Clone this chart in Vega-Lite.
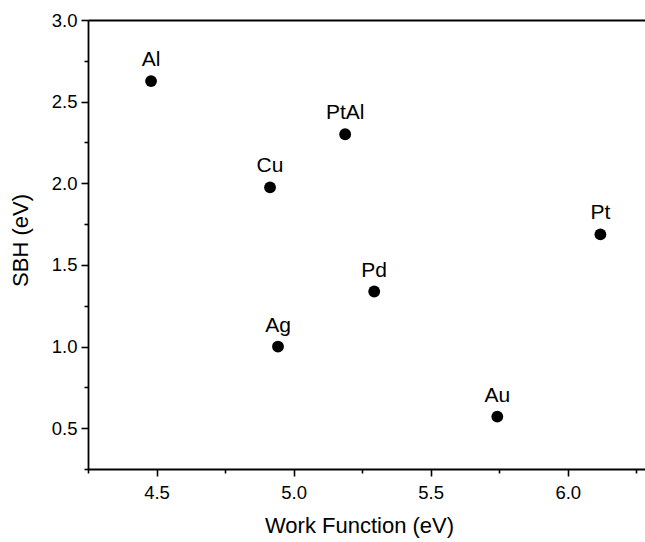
{
  "$schema": "https://vega.github.io/schema/vega-lite/v6.json",
  "width": 562,
  "height": 449,
  "autosize": "none",
  "padding": {"left": 88, "top": 20, "right": 0, "bottom": 73},
  "background": "white",
  "config": {
    "view": {"stroke": null},
    "axis": {
      "domainColor": "black", "tickColor": "black", "labelColor": "black", "titleColor": "black",
      "domainWidth": 1.8, "tickWidth": 1.6, "grid": false,
      "labelFont": "Liberation Sans", "titleFont": "Liberation Sans",
      "labelFontSize": 18.5, "titleFontSize": 22, "titleFontWeight": "normal"
    }
  },
  "data": {
    "values": [
      {"metal": "Al", "wf": 4.48, "sbh": 2.626},
      {"metal": "Cu", "wf": 4.914, "sbh": 1.975},
      {"metal": "PtAl", "wf": 5.188, "sbh": 2.30},
      {"metal": "Pd", "wf": 5.294, "sbh": 1.337},
      {"metal": "Ag", "wf": 4.943, "sbh": 1.0},
      {"metal": "Au", "wf": 5.743, "sbh": 0.571},
      {"metal": "Pt", "wf": 6.119, "sbh": 1.687}
    ]
  },
  "resolve": {"axis": {"x": "independent", "y": "independent"}},
  "layer": [
    {
      "mark": {"type": "point", "filled": true, "color": "black", "opacity": 1, "size": 140},
      "encoding": {
        "x": {"field": "wf", "type": "quantitative", "scale": {"domain": [4.25, 6.3], "nice": false, "zero": false},
              "axis": {"orient": "bottom", "title": "Work Function (eV)", "values": [4.5, 5.0, 5.5, 6.0], "format": ".1f", "tickSize": 7, "labelPadding": 7, "titlePadding": 14, "titleX": 271}},
        "y": {"field": "sbh", "type": "quantitative", "scale": {"domain": [0.25, 3.0], "nice": false, "zero": false},
              "axis": {"orient": "left", "title": "SBH (eV)", "values": [0.5, 1.0, 1.5, 2.0, 2.5, 3.0], "format": ".1f", "tickSize": 7, "labelPadding": 4, "titlePadding": 19, "titleY": 220}}
      }
    },
    {
      "mark": {"type": "text", "dy": -15, "font": "Liberation Sans", "fontSize": 21, "color": "black", "baseline": "alphabetic"},
      "encoding": {
        "x": {"field": "wf", "type": "quantitative", "axis": null},
        "y": {"field": "sbh", "type": "quantitative", "axis": null},
        "text": {"field": "metal"}
      }
    },
    {
      "mark": {"type": "point", "opacity": 0},
      "encoding": {
        "x": {"field": "wf", "type": "quantitative",
              "axis": {"orient": "bottom", "title": null, "values": [4.25, 4.75, 5.25, 5.75, 6.25], "labels": false, "tickSize": 4, "domain": false}},
        "y": {"field": "sbh", "type": "quantitative",
              "axis": {"orient": "left", "title": null, "values": [0.25, 0.75, 1.25, 1.75, 2.25, 2.75], "labels": false, "tickSize": 4, "domain": false}}
      }
    },
    {
      "mark": {"type": "point", "opacity": 0},
      "encoding": {
        "x": {"field": "wf", "type": "quantitative",
              "axis": {"orient": "top", "title": null, "labels": false, "ticks": false, "domain": true}},
        "y": {"field": "sbh", "type": "quantitative", "axis": null}
      }
    }
  ]
}
